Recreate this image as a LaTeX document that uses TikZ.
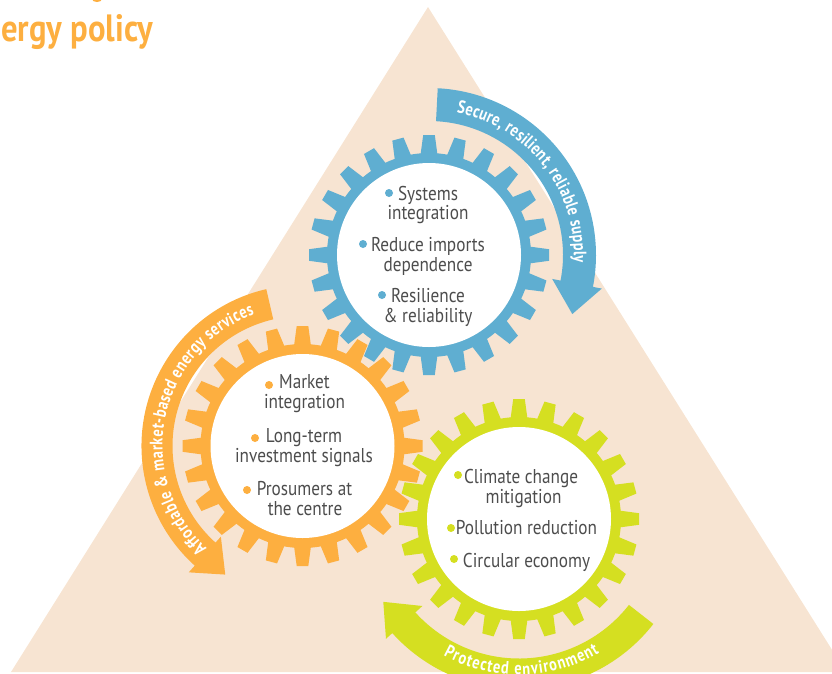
\documentclass[tikz,border=0pt]{standalone}
\usepackage{fontspec}
\usetikzlibrary{decorations.text}
\setmainfont{PT Sans}
\newfontfamily\bodyfont[FakeStretch=0.86]{PT Sans}
\newfontfamily\arcfont[FakeStretch=0.8]{PT Sans Bold}
\newfontfamily\titlefont[FakeStretch=0.86]{PT Sans Bold}
\definecolor{sand}{HTML}{F7E4D2}
\definecolor{cblue}{HTML}{5FAED1}
\definecolor{corange}{HTML}{FDAF40}
\definecolor{cgreen}{HTML}{D5DF21}
\definecolor{ink}{HTML}{4D4D4D}
\tikzset{
  lbl/.style={anchor=base,inner sep=0pt,text=ink,font=\bodyfont\fontsize{20}{20}\selectfont},
  dotb/.style={circle,inner sep=0pt,minimum size=8pt,fill=#1},
}
% gear: colour, centre x, centre y (image coordinates)
\newcommand{\gearwheel}[3]{%
  \begin{scope}[shift={(#2,#3)},y=1pt]
    \fill[#1] (0,0) circle[radius=102];
    \foreach \a in {0,15,...,345}{
      \fill[#1,rotate=\a] (100,-8.5) -- (120,-5.8) -- (120,5.8) -- (100,8.5) -- cycle;
    }
    \fill[white] (0,0) circle[radius=92];
  \end{scope}}
% arc arrow: colour, cx, cy, r in, r out, a1, a2, barb in, barb out (tip in \tipspec)
\newcommand{\arcarrow}[9]{%
  \begin{scope}[shift={(#2,#3)},y=1pt]
    \fill[#1] (#6:#5) arc[start angle=#6,end angle=#7,radius=#5]
      -- (#7:#9) -- \tipspec -- (#7:#8) -- (#7:#4)
      arc[start angle=#7,end angle=#6,radius=#4] -- cycle;
  \end{scope}}
% text on arc: cx, cy, r, a1, a2, text
\newcommand{\arctext}[6]{%
  \begin{scope}[shift={(#1,#2)},y=1pt]
    \path[decorate,decoration={text along path,text align={fit to path},
      text={|\arcfont\fontsize{18}{18}\selectfont\color{white}|#6}}]
      (#4:#3) arc[start angle=#4,end angle=#5,radius=#3];
  \end{scope}}
\begin{document}
\begin{tikzpicture}[x=1pt,y=-1pt]
\useasboundingbox (0,0) rectangle (832,673);
\clip (0,0) rectangle (832,673);
% background triangle
\fill[sand] (428,7) -- (11,672) -- (846,672) -- cycle;
% title
\node[anchor=base west,inner sep=0pt,text=corange,font=\titlefont\fontsize{38}{38}\selectfont] (title) at (1,41) {ergy policy};
\fill[corange] (97,-1) ellipse[x radius=5,y radius=3];
% arrows
\def\tipspec{(-22.4:155)}
\arcarrow{cblue}{429}{255}{134}{167}{87}{-11}{125.5}{176}
\def\tipspec{(239:150)}
\arcarrow{corange}{302.5}{446}{130}{161}{103}{228}{122}{170}
\def\tipspec{(211.4:159)}
\arcarrow{cgreen}{519}{519}{139.5}{170.5}{322}{222}{130}{179}
% gears
\gearwheel{cblue}{429}{255}
\gearwheel{cgreen}{519}{519}
\gearwheel{corange}{302.5}{446}
% arrow texts
\arctext{429}{255}{145}{79}{-3}{Secure, resilient, reliable supply}
\arctext{302.5}{446}{140}{227}{110}{Affordable {\&} market-based energy services}
\arctext{519}{519}{156}{241}{301}{Protected environment}
% blue gear text
\node[dotb=cblue] (b1) at (389,193) {};
\node[lbl] (b1a) at (428,200) {Systems};
\node[lbl] (b1b) at (428,219) {integration};
\node[dotb=cblue] (b2) at (363,244) {};
\node[lbl] (b2a) at (428,251) {Reduce imports};
\node[lbl] (b2b) at (428,271) {dependence};
\node[dotb=cblue] (b3) at (382,295) {};
\node[lbl] (b3a) at (428,302) {Resilience};
\node[lbl] (b3b) at (428,322) {\& reliability};
% orange gear text
\node[dotb=corange] (o1) at (269,385) {};
\node[lbl] (o1a) at (304.5,388) {Market};
\node[lbl] (o1b) at (304.5,408) {integration};
\node[dotb=corange] (o2) at (255,438) {};
\node[lbl] (o2a) at (304,442) {Long-term};
\node[lbl] (o2b) at (304,462) {investment signals};
\node[dotb=corange] (o3) at (247,490) {};
\node[lbl] (o3a) at (304.5,495) {Prosumers at};
\node[lbl] (o3b) at (305,515) {the centre};
% green gear text
\node[dotb=cgreen] (g1) at (458,475) {};
\node[lbl] (g1a) at (521,483) {Climate change};
\node[lbl] (g1b) at (523.5,503) {mitigation};
\node[dotb=cgreen] (g2) at (451,528) {};
\node[lbl] (g2a) at (526.5,534) {Pollution reduction};
\node[dotb=cgreen] (g3) at (454,559) {};
\node[lbl] (g3a) at (526.5,567) {Circular economy};
\end{tikzpicture}
\end{document}
